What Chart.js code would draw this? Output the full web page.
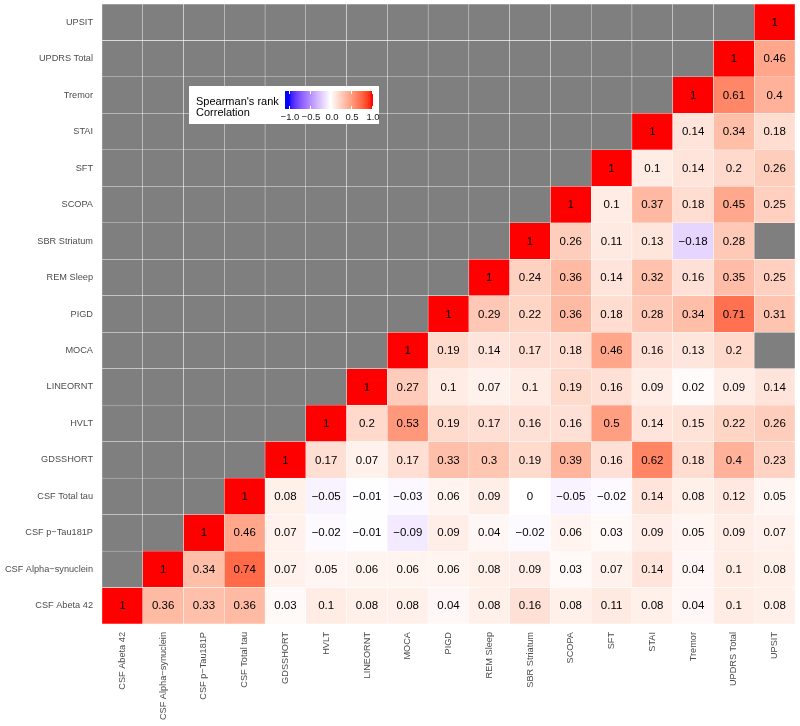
<!DOCTYPE html>
<html>
<head>
<meta charset="utf-8">
<script src="https://cdn.jsdelivr.net/npm/chart.js@4.4.1/dist/chart.umd.min.js"></script>
<style>
	html, body { margin: 0; padding: 0; background: #ffffff; }
	#wrap { width: 800px; height: 726px; }
</style>
</head>
<body>
<div id="wrap"><canvas id="corrChart" width="800" height="726"></canvas></div>
<script>
//variables, bottom to top on y and left to right on x

const variables = ['CSF Abeta 42', 'CSF Alpha\u2212synuclein', 'CSF p\u2212Tau181P', 'CSF Total tau',
	'GDSSHORT', 'HVLT', 'LINEORNT', 'MOCA', 'PIGD', 'REM Sleep', 'SBR Striatum',
	'SCOPA', 'SFT', 'STAI', 'Tremor', 'UPDRS Total', 'UPSIT'];

//correlations for each row, starting at the diagonal (null = missing)

const rowAbeta42 = [1, 0.36, 0.33, 0.36, 0.03, 0.1, 0.08, 0.08, 0.04, 0.08, 0.16, 0.08, 0.11, 0.08, 0.04, 0.1, 0.08];
const rowAlphaSyn = [1, 0.34, 0.74, 0.07, 0.05, 0.06, 0.06, 0.06, 0.08, 0.09, 0.03, 0.07, 0.14, 0.04, 0.1, 0.08];
const rowPTau = [1, 0.46, 0.07, -0.02, -0.01, -0.09, 0.09, 0.04, -0.02, 0.06, 0.03, 0.09, 0.05, 0.09, 0.07];
const rowTotalTau = [1, 0.08, -0.05, -0.01, -0.03, 0.06, 0.09, 0, -0.05, -0.02, 0.14, 0.08, 0.12, 0.05];
const rowGDS = [1, 0.17, 0.07, 0.17, 0.33, 0.3, 0.19, 0.39, 0.16, 0.62, 0.18, 0.4, 0.23];
const rowHVLT = [1, 0.2, 0.53, 0.19, 0.17, 0.16, 0.16, 0.5, 0.14, 0.15, 0.22, 0.26];
const rowLineornt = [1, 0.27, 0.1, 0.07, 0.1, 0.19, 0.16, 0.09, 0.02, 0.09, 0.14];
const rowMoca = [1, 0.19, 0.14, 0.17, 0.18, 0.46, 0.16, 0.13, 0.2, null];
const rowPigd = [1, 0.29, 0.22, 0.36, 0.18, 0.28, 0.34, 0.71, 0.31];
const rowRem = [1, 0.24, 0.36, 0.14, 0.32, 0.16, 0.35, 0.25];
const rowSbr = [1, 0.26, 0.11, 0.13, -0.18, 0.28, null];
const rowScopa = [1, 0.1, 0.37, 0.18, 0.45, 0.25];
const rowSft = [1, 0.1, 0.14, 0.2, 0.26];
const rowStai = [1, 0.14, 0.34, 0.18];
const rowTremor = [1, 0.61, 0.4];
const rowUpdrs = [1, 0.46];
const rowUpsit = [1];

const corrRows = [rowAbeta42, rowAlphaSyn, rowPTau, rowTotalTau, rowGDS, rowHVLT, rowLineornt, rowMoca,
	rowPigd, rowRem, rowSbr, rowScopa, rowSft, rowStai, rowTremor, rowUpdrs, rowUpsit];

const legendTicks = [-1, -0.5, 0, 0.5, 1];

const FONT = '"Liberation Sans", Arial, sans-serif';

//colour helpers (white -> red / white -> blue in Lab, like gradient2)

function lab2rgb(L, a, b) {
	const fy = (L + 16) / 116, fx = fy + a / 500, fz = fy - b / 200;
	const finv = t => t > 6 / 29 ? t * t * t : 3 * (6 / 29) * (6 / 29) * (t - 4 / 29);
	const X = 0.95047 * finv(fx), Y = finv(fy), Z = 1.08883 * finv(fz);
	const lin = [
		3.2406 * X - 1.5372 * Y - 0.4986 * Z,
		-0.9689 * X + 1.8758 * Y + 0.0415 * Z,
		0.0557 * X - 0.2040 * Y + 1.0570 * Z
	];
	const out = lin.map(c => {
		c = Math.max(0, Math.min(1, c));
		const s = c <= 0.0031308 ? 12.92 * c : 1.055 * Math.pow(c, 1 / 2.4) - 0.055;
		return Math.round(s * 255);
	});
	return 'rgb(' + out.join(',') + ')';
}

const RED_LAB = [53.24, 80.09, 67.20];
const BLUE_LAB = [32.30, 79.19, -107.86];

function corrColor(v) {
	if (v === null || v === undefined) return '#7f7f7f';
	const t = Math.min(1, Math.abs(v));
	const end = v >= 0 ? RED_LAB : BLUE_LAB;
	return lab2rgb(100 + (end[0] - 100) * t, end[1] * t, end[2] * t);
}

//cell value lookup: row i, column j

function cellValue(i, j) {
	if (j < i) return undefined;
	return corrRows[i][j - i];
}

//one floating bar dataset per row

const datasets = variables.map((name, i) => {
	const data = [], colors = [];
	variables.forEach((_, j) => {
		data.push([i - 0.5, i + 0.5]);
		colors.push(corrColor(cellValue(i, j)));
	});
	return {
		label: name,
		data: data,
		backgroundColor: colors,
		borderColor: 'rgba(255,255,255,0.45)',
		borderWidth: 0.5,
		borderSkipped: false,
		barPercentage: 1,
		categoryPercentage: 1,
		grouped: false
	};
});

//cell text labels

const cellTextPlugin = {
	id: 'cellText',
	afterDatasetsDraw(chart) {
		const ctx = chart.ctx;
		const xs = chart.scales.x, ys = chart.scales.y;
		ctx.save();
		ctx.font = '11.5px ' + FONT;
		ctx.fillStyle = '#000000';
		ctx.textAlign = 'center';
		ctx.textBaseline = 'middle';
		corrRows.forEach((row, i) => {
			row.forEach((v, k) => {
				if (v === null) return;
				const j = i + k;
				const txt = String(v).replace('-', '\u2212');
				ctx.fillText(txt, xs.getPixelForValue(j), ys.getPixelForValue(i) + 0.5);
			});
		});
		ctx.restore();
	}
};

//legend box with colour bar

const legendPlugin = {
	id: 'corrLegend',
	afterDraw(chart) {
		const ctx = chart.ctx;
		ctx.save();
		ctx.fillStyle = '#ffffff';
		ctx.fillRect(189, 86, 190, 38);

		ctx.fillStyle = '#000000';
		ctx.font = '11px ' + FONT;
		ctx.textAlign = 'left';
		ctx.textBaseline = 'alphabetic';
		ctx.fillText('Spearman\'s rank', 196, 104.5);
		ctx.fillText('Correlation', 196, 115.5);

		const barL = 285, barR = 373, barT = 91, barB = 109;
		const tickL = 289, tickR = 372;
		const grad = ctx.createLinearGradient(tickL, 0, tickR, 0);
		for (let s = 0; s <= 40; s++) {
			const v = -1 + s / 20;
			grad.addColorStop(s / 40, corrColor(v));
		}
		ctx.fillStyle = grad;
		ctx.fillRect(barL, barT, barR - barL, barB - barT);

		ctx.strokeStyle = '#ffffff';
		ctx.lineWidth = 1;
		ctx.font = '9.5px ' + FONT;
		ctx.fillStyle = '#1a1a1a';
		ctx.textAlign = 'center';
		ctx.textBaseline = 'alphabetic';
		legendTicks.forEach(t => {
			const x = Math.round(tickL + (t + 1) / 2 * (tickR - tickL)) + 0.5;
			ctx.beginPath();
			ctx.moveTo(x, barT); ctx.lineTo(x, barT + 3);
			ctx.moveTo(x, barB); ctx.lineTo(x, barB - 3);
			ctx.stroke();
			ctx.fillText(t.toFixed(1).replace('-', '\u2212'), x + 0.5, 120);
		});
		ctx.restore();
	}
};

//chart configuration

const config = {
	type: 'bar',
	data: {
		labels: variables,
		datasets: datasets
	},
	options: {
		responsive: false,
		animation: false,
		layout: {
			padding: { top: 4, right: 5, left: 0, bottom: 0 }
		},
		plugins: {
			legend: { display: false },
			tooltip: { enabled: false }
		},
		scales: {
			x: {
				type: 'category',
				offset: true,
				grid: { display: false, drawTicks: false },
				border: { display: false },
				ticks: {
					autoSkip: false,
					minRotation: 90,
					maxRotation: 90,
					padding: 8,
					color: '#4d4d4d',
					font: { family: FONT, size: 9.2 }
				},
				afterFit(scale) {
					scale.height = 102;
					scale.paddingLeft = 0;
					scale.paddingRight = 0;
				}
			},
			y: {
				type: 'linear',
				min: -0.5,
				max: variables.length - 0.5,
				grid: { display: false, drawTicks: false },
				border: { display: false },
				afterBuildTicks(scale) {
					scale.ticks = variables.map((_, i) => ({ value: i }));
				},
				ticks: {
					autoSkip: false,
					padding: 9,
					color: '#4d4d4d',
					font: { family: FONT, size: 9.2 },
					callback: function (value) {
						return variables[value];
					}
				},
				afterFit(scale) {
					scale.width = 102;
					scale.paddingTop = 0;
					scale.paddingBottom = 0;
				}
			}
		}
	},
	plugins: [cellTextPlugin, legendPlugin]
};

//initialize chart

const ctx = document.getElementById('corrChart').getContext('2d');
const chart = new Chart(ctx, config);
</script>
</body>
</html>
